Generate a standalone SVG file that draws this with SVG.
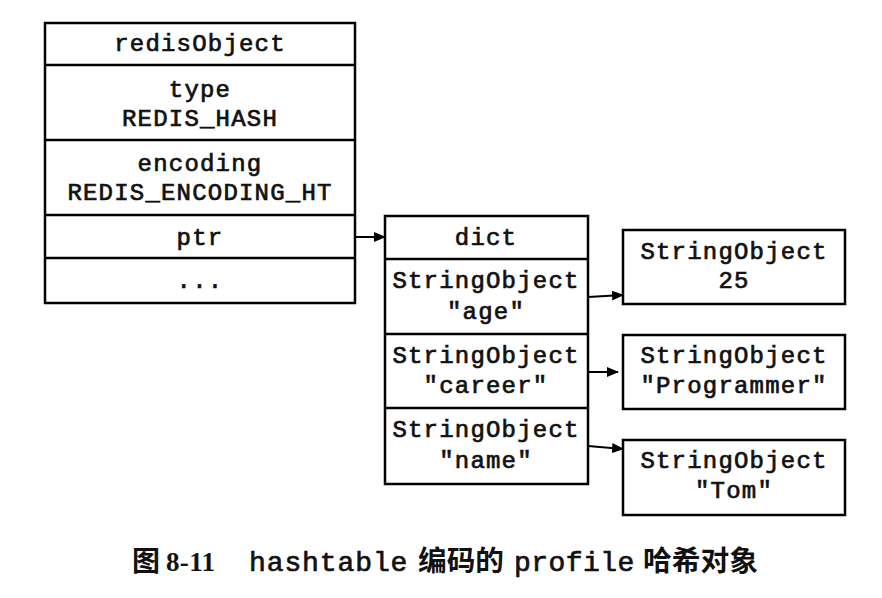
<svg xmlns="http://www.w3.org/2000/svg" width="882" height="598" viewBox="0 0 882 598">
<style>
.box{fill:#fff;stroke:#000;stroke-width:2.5}
.sep{stroke:#000;stroke-width:2.5}
.t{font-family:"Liberation Mono","Courier New",monospace;font-size:24px;letter-spacing:1.2px;font-weight:normal;stroke:#111;stroke-width:0.7;fill:#111;text-anchor:middle}
.conn{stroke:#000;stroke-width:2;fill:none}
.cap{font-family:"Liberation Mono",monospace;font-size:28px;letter-spacing:0.6px;stroke:#111;stroke-width:0.7;fill:#111}
.cjk{font-family:"Noto Sans CJK SC","Liberation Sans",sans-serif;font-size:28px;font-weight:bold;fill:#111}
.num{font-family:"Liberation Serif",serif;font-size:27px;font-weight:bold;fill:#111}
</style>
<defs>
<marker id="ah" markerWidth="12" markerHeight="10" refX="11" refY="5" orient="auto" markerUnits="userSpaceOnUse">
<path d="M0,0 L12,5 L0,10 Z" fill="#000"/>
</marker>
</defs>
<rect width="882" height="598" fill="#fff"/>
<g id="redisObject">
<rect class="box" x="45" y="23" width="310" height="280"/>
<line class="sep" x1="45" y1="65" x2="355" y2="65"/>
<line class="sep" x1="45" y1="140" x2="355" y2="140"/>
<line class="sep" x1="45" y1="215" x2="355" y2="215"/>
<line class="sep" x1="45" y1="258" x2="355" y2="258"/>
<text class="t" x="200" y="51">redisObject</text>
<text class="t" x="200" y="97">type</text>
<text class="t" x="200" y="126">REDIS_HASH</text>
<text class="t" x="200" y="171">encoding</text>
<text class="t" x="200" y="200">REDIS_ENCODING_HT</text>
<text class="t" x="200" y="245">ptr</text>
<text class="t" x="200" y="288">...</text>
</g>
<g id="dict">
<rect class="box" x="385" y="216" width="203" height="268"/>
<line class="sep" x1="385" y1="259" x2="588" y2="259"/>
<line class="sep" x1="385" y1="334" x2="588" y2="334"/>
<line class="sep" x1="385" y1="408" x2="588" y2="408"/>
<text class="t" x="486" y="245">dict</text>
<text class="t" x="486" y="288">StringObject</text>
<text class="t" x="486" y="319">"age"</text>
<text class="t" x="486" y="363">StringObject</text>
<text class="t" x="486" y="393">"career"</text>
<text class="t" x="486" y="437">StringObject</text>
<text class="t" x="486" y="468">"name"</text>
</g>
<g id="val-age">
<rect class="box" x="623" y="230" width="222" height="74"/>
<text class="t" x="734" y="259">StringObject</text>
<text class="t" x="734" y="288">25</text>
</g>
<g id="val-career">
<rect class="box" x="623" y="335" width="222" height="74"/>
<text class="t" x="734" y="363">StringObject</text>
<text class="t" x="734" y="393">"Programmer"</text>
</g>
<g id="val-name">
<rect class="box" x="623" y="440" width="222" height="75"/>
<text class="t" x="734" y="468">StringObject</text>
<text class="t" x="734" y="498">"Tom"</text>
</g>
<g id="connectors">
<line class="conn" x1="355" y1="237" x2="385" y2="237" marker-end="url(#ah)"/>
<line class="conn" x1="588" y1="297" x2="623" y2="295" marker-end="url(#ah)"/>
<line class="conn" x1="588" y1="372" x2="618" y2="372" marker-end="url(#ah)"/>
<line class="conn" x1="588" y1="446" x2="623" y2="449" marker-end="url(#ah)"/>
</g>
<g id="caption">
<text class="cjk" x="132" y="571" font-size="26">图</text>
<text class="num" x="166" y="571" textLength="49">8-11</text>
<text class="cap" x="249" y="571" textLength="159">hashtable</text>
<text class="cjk" x="418" y="571" textLength="86" lengthAdjust="spacingAndGlyphs">编码的</text>
<text class="cap" x="514" y="571" textLength="121">profile</text>
<text class="cjk" x="643" y="571" textLength="115" lengthAdjust="spacingAndGlyphs">哈希对象</text>
</g>
</svg>
